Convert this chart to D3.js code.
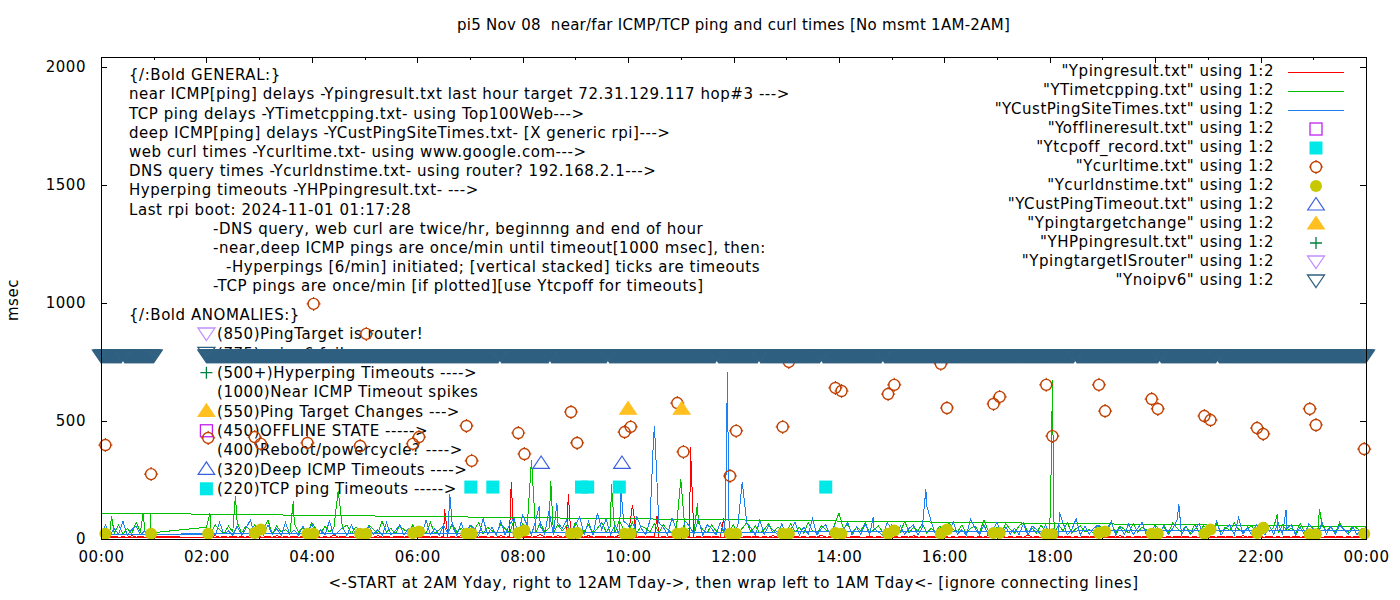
<!DOCTYPE html>
<html>
<head>
<meta charset="utf-8">
<script src="https://cdn.jsdelivr.net/npm/d3@7"></script>
<style>
  body { margin: 0; background: #fff; }
  svg text { font-family: "DejaVu Sans", sans-serif; font-size: 15px; fill: #000; letter-spacing: 0.55px; white-space: pre; }
  svg text.title { letter-spacing: 0.27px; }
</style>
</head>
<body>
<div id="chart"></div>
<script>
// values every 5 minutes: 00:00-00:55 (night) and 02:00-24:00 (day)
const redNight = [8, 10, 8, 12, 8, 9, 8, 14, 8, 10, 8, 9];
const redDay = [
  8, 9, 14, 8, 10, 8, 12, 8, 9, 8, 15, 8,
  9, 8, 10, 8, 14, 8, 9, 8, 12, 8, 10, 8,
  8, 12, 8, 9, 8, 16, 8, 10, 8, 9, 8, 12,
  8, 9, 8, 14, 8, 10, 8, 9, 12, 8, 10, 8,
  9, 8, 12, 8, 10, 8, 9, 8, 9, 8, 14, 8,
  8, 10, 8, 12, 8, 9, 8, 14, 8, 9, 8, 10,
  8, 12, 8, 9, 20, 8, 10, 8, 14, 8, 9, 8,
  8, 10, 8, 14, 8, 9, 12, 8, 10, 8, 16, 8,
  8, 9, 8, 10, 8, 12, 8, 8, 9, 8, 12, 8,
  8, 10, 8, 8, 9, 8, 12, 8, 10, 8, 8, 9,
  8, 9, 8, 12, 8, 10, 8, 9, 8, 14, 8, 10,
  9, 8, 12, 8, 9, 8, 10, 8, 16, 8, 9, 8,
  8, 10, 8, 9, 12, 8, 8, 10, 8, 9, 8, 12,
  8, 9, 8, 10, 8, 14, 8, 9, 8, 12, 8, 9,
  10, 8, 9, 8, 12, 8, 10, 8, 9, 8, 14, 8,
  8, 12, 8, 9, 8, 10, 8, 16, 8, 9, 8, 10,
  8, 9, 12, 8, 10, 8, 9, 8, 12, 8, 10, 8,
  9, 8, 10, 8, 14, 8, 9, 8, 10, 8, 12, 8,
  8, 10, 8, 9, 8, 12, 8, 10, 8, 9, 8, 14,
  8, 9, 8, 12, 8, 10, 8, 9, 14, 8, 10, 8,
  9, 8, 12, 8, 9, 8, 10, 8, 12, 8, 9, 8,
  8, 10, 8, 9, 12, 8, 10, 8, 9, 8, 12, 8,
  8
];
const redSpikes = [["06:31", 127], ["07:47", 242], ["08:52", 191], ["10:05", 144], ["10:33", 98], ["11:11", 390], ["11:49", 89]];
const redTail = [["00:00", 8]];

const greenNight = [22, 40, 30, 25, 60, 20, 45, 22, 70, 30, 30, 25];
const greenDay = [
  50, 25, 60, 40, 22, 55, 30, 70, 25, 55, 35, 60,
  25, 45, 80, 22, 55, 30, 40, 25, 65, 30, 50, 25,
  70, 40, 22, 55, 30, 45, 25, 45, 60, 22, 50, 35,
  22, 60, 40, 25, 75, 30, 45, 22, 55, 40, 25, 60,
  30, 45, 25, 70, 22, 40, 55, 25, 65, 30, 45, 25,
  55, 40, 70, 22, 50, 35, 25, 60, 45, 25, 80, 30,
  65, 40, 30, 25, 70, 30, 45, 25, 60, 35, 55, 25,
  70, 40, 30, 60, 25, 45, 70, 30, 55, 25, 80, 40,
  30, 70, 25, 55, 45, 30, 65, 25, 60, 40, 25, 45,
  60, 30, 50, 25, 70, 40, 25, 60, 35, 25, 45, 30,
  60, 25, 45, 70, 30, 55, 25, 40, 65, 25, 50, 40,
  25, 65, 30, 50, 25, 70, 35, 25, 55, 40, 25, 60,
  30, 45, 60, 25, 50, 35, 70, 25, 40, 55, 30, 25,
  60, 40, 30, 75, 25, 50, 35, 65, 25, 45, 30, 55,
  25, 70, 40, 30, 60, 25, 45, 55, 25, 80, 35, 30,
  50, 25, 65, 40, 25, 55, 70, 30, 45, 25, 60, 30,
  40, 25, 60, 35, 70, 25, 45, 55, 30, 40, 25, 60,
  45, 30, 70, 25, 55, 40, 25, 65, 30, 50, 40, 25,
  60, 35, 50, 25, 70, 45, 30, 55, 25, 60, 30, 55,
  40, 25, 65, 30, 50, 35, 70, 40, 30, 45, 55, 25,
  40, 70, 30, 50, 25, 60, 35, 45, 25, 65, 30, 55,
  45, 25, 60, 35, 50, 25, 70, 40, 30, 55, 45, 30,
  52
];
const greenSpikes = [["00:12", 98], ["00:48", 110], ["02:04", 110], ["02:33", 182], ["03:39", 161], ["04:30", 204],
  ["08:10", 335], ["08:32", 246], ["09:41", 233], ["11:00", 254], ["11:19", 153], ["14:00", 110],
  ["18:02", 365], ["18:03", 675], ["22:19", 106], ["23:07", 127]];
const greenTail = [["00:00", 110], ["00:56", 110], ["00:57", 25]];

const blueNight = [18, 60, 15, 45, 20, 75, 16, 40, 55, 18, 35, 17];
const blueDay = [
  18, 40, 15, 70, 20, 35, 16, 55, 15, 45, 80, 18,
  30, 16, 60, 18, 45, 15, 70, 20, 38, 16, 55, 18,
  65, 15, 40, 18, 75, 16, 30, 50, 15, 60, 18, 45,
  16, 55, 20, 40, 15, 70, 18, 35, 60, 16, 45, 18,
  50, 16, 80, 18, 45, 15, 60, 20, 55, 16, 70, 18,
  60, 45, 16, 85, 20, 50, 15, 75, 18, 60, 90, 20,
  100, 60, 18, 80, 55, 20, 120, 18, 70, 45, 80, 18,
  60, 95, 20, 75, 16, 110, 40, 85, 18, 60, 20, 75,
  60, 20, 95, 45, 18, 80, 25, 70, 50, 18, 90, 40,
  18, 75, 55, 20, 85, 16, 60, 45, 18, 70, 20, 40,
  20, 60, 18, 70, 45, 16, 80, 20, 55, 38, 18, 65,
  16, 40, 70, 18, 50, 20, 85, 16, 45, 60, 18, 55,
  18, 40, 70, 16, 50, 20, 65, 18, 45, 30, 16, 70,
  40, 18, 55, 20, 45, 60, 16, 50, 18, 75, 20, 45,
  50, 18, 75, 20, 40, 16, 85, 45, 18, 60, 16, 40,
  70, 16, 50, 20, 45, 18, 65, 16, 55, 40, 18, 60,
  20, 45, 16, 70, 18, 40, 85, 16, 55, 20, 45, 60,
  18, 40, 75, 16, 50, 20, 65, 18, 45, 70, 16, 40,
  55, 18, 60, 20, 45, 80, 16, 55, 18, 40, 65, 18,
  50, 20, 75, 16, 45, 60, 18, 90, 20, 50, 18, 60,
  40, 16, 55, 20, 70, 18, 45, 60, 16, 50, 18, 65,
  40, 16, 70, 20, 55, 18, 60, 40, 20, 50, 18, 45,
  38
];
const blueSpikes = [["06:37", 190], ["08:19", 140], ["08:39", 153], ["09:52", 204], ["10:29", 429], ["10:30", 480],
  ["11:52", 361], ["11:53", 709], ["12:10", 242], ["14:39", 93], ["15:39", 212], ["15:40", 140],
  ["18:11", 115], ["20:27", 148], ["22:29", 123]];
const blueTail = [["00:00", 20]];

const curlTimes = [["00:05", 398], ["00:57", 275], ["02:02", 428], ["02:55", 432], ["03:02", 403], ["03:55", 407],
  ["04:02", 996], ["04:55", 394], ["05:02", 869], ["05:55", 403], ["06:02", 432], ["06:56", 479],
  ["07:02", 331], ["07:55", 449], ["08:02", 360], ["08:55", 538], ["09:02", 407], ["09:56", 453],
  ["10:03", 475], ["10:56", 576], ["11:03", 369], ["11:56", 267], ["12:03", 458], ["12:56", 475],
  ["13:03", 750], ["13:56", 640], ["14:03", 627], ["14:56", 614], ["15:03", 653], ["15:56", 742],
  ["16:03", 555], ["16:56", 572], ["17:03", 602], ["17:56", 653], ["18:03", 436], ["18:56", 653],
  ["19:03", 542], ["19:56", 593], ["20:03", 551], ["20:56", 521], ["21:03", 504], ["21:56", 470],
  ["22:03", 445], ["22:56", 551], ["23:03", 483], ["23:58", 381]];
const dnsValues = [22, 22, 22, 25, 40, 22, 22, 22, 22, 25, 32, 22,
  22, 25, 36, 22, 25, 22, 22, 22, 25, 22, 22, 22,
  22, 25, 22, 22, 36, 22, 40, 25, 25, 20, 20, 25,
  32, 22, 22, 22, 40, 25, 48, 20, 20, 22];
const offlineTimes = [];
const tcpOffTimes = [["07:01", 220], ["07:26", 220], ["09:07", 220], ["09:14", 220], ["09:50", 220], ["13:45", 220]];
const custTimeouts = [["08:21", 320], ["09:53", 320]];
const targetChanges = [["10:00", 550], ["11:01", 550]];
const noipv6Ranges = [["00:00", "01:00"], ["02:00", "24:00"]];
const noipv6Gaps = [["00:24", "00:26"], ["07:33", "07:35"], ["08:30", "08:32"], ["09:36", "09:38"], ["11:40", "11:42"],
  ["12:28", "12:30"], ["13:39", "13:41"], ["14:49", "14:51"], ["18:28", "18:30"], ["20:04", "20:06"], ["21:10", "21:12"]];
const noipv6Value = 775;

const xTickHours = [0, 2, 4, 6, 8, 10, 12, 14, 16, 18, 20, 22, 24];
const yTicks = [0, 500, 1000, 1500, 2000];

const titleText = "pi5 Nov 08  near/far ICMP/TCP ping and curl times [No msmt 1AM-2AM]";
const xLabel = "<-START at 2AM Yday, right to 12AM Tday->, then wrap left to 1AM Tday<- [ignore connecting lines]";
const generalLines = [
  ["{/:Bold GENERAL:}", 0],
  ["near ICMP[ping] delays -Ypingresult.txt last hour target 72.31.129.117 hop#3 --->", 0],
  ["TCP ping delays -YTimetcpping.txt- using Top100Web--->", 0],
  ["deep ICMP[ping] delays -YCustPingSiteTimes.txt- [X generic rpi]--->", 0],
  ["web curl times -Ycurltime.txt- using www.google.com--->", 0],
  ["DNS query times -Ycurldnstime.txt- using router? 192.168.2.1--->", 0],
  ["Hyperping timeouts -YHPpingresult.txt- --->", 0],
  ["Last rpi boot: 2024-11-01 01:17:28", 0],
  ["-DNS query, web curl are twice/hr, beginnng and end of hour", 1],
  ["-near,deep ICMP pings are once/min until timeout[1000 msec], then:", 1],
  ["-Hyperpings [6/min] initiated; [vertical stacked] ticks are timeouts", 2],
  ["-TCP pings are once/min [if plotted][use Ytcpoff for timeouts]", 1]
];
const anomalyLines = [
  ["(850)PingTarget is router!", "triDown", "#c090ff"],
  ["(775)noipv6 failures", "triDown", "#306080"],
  ["(500+)Hyperping Timeouts ---->", "plus", "#008040"],
  ["(1000)Near ICMP Timeout spikes", null, null],
  ["(550)Ping Target Changes --->", "triUpFill", "#ffc020"],
  ["(450)OFFLINE STATE ----->", "sqOpen", "#c020f0"],
  ["(400)Reboot/powercycle? ---->", null, null],
  ["(320)Deep ICMP Timeouts ---->", "triUp", "#3a60e0"],
  ["(220)TCP ping Timeouts ----->", "sqFill", "#00e8e8"]
];
const legendRows = [
  ['"Ypingresult.txt" using 1:2', "line", "#ff0000"],
  ['"YTimetcpping.txt" using 1:2', "line", "#00c000"],
  ['"YCustPingSiteTimes.txt" using 1:2', "line", "#1e80f0"],
  ['"Yofflineresult.txt" using 1:2', "sqOpen", "#c020f0"],
  ['"Ytcpoff_record.txt" using 1:2', "sqFill", "#00e8e8"],
  ['"Ycurltime.txt" using 1:2', "circOpen", "#c04000"],
  ['"Ycurldnstime.txt" using 1:2', "circFill", "#c8c800"],
  ['"YCustPingTimeout.txt" using 1:2', "triUp", "#3a60e0"],
  ['"Ypingtargetchange" using 1:2', "triUpFill", "#ffc020"],
  ['"YHPpingresult.txt" using 1:2', "plus", "#008040"],
  ['"YpingtargetISrouter" using 1:2', "triDown", "#c090ff"],
  ['"Ynoipv6" using 1:2', "triDown", "#306080"]
];

const W = 1400, H = 600;
const L = 101, R = 1366, T = 57, B = 539;
const tm = s => { const [h, m] = s.split(":").map(Number); return h * 60 + m; };
const x = d3.scaleLinear().domain([0, 1440]).range([L, R]);
const y = d3.scaleLinear().domain([0, 2042]).range([B, T]);

const svg = d3.select("#chart").append("svg").attr("width", W).attr("height", H);
svg.append("defs").append("clipPath").attr("id", "clip")
  .append("rect").attr("x", L).attr("y", T).attr("width", R - L).attr("height", B - T);

function marker(g, type, color, cx, cy) {
  if (type === "sqOpen") {
    g.append("rect").attr("x", cx - 6).attr("y", cy - 6).attr("width", 12).attr("height", 12)
      .attr("fill", "none").attr("stroke", color).attr("stroke-width", 1.3);
  } else if (type === "sqFill") {
    g.append("rect").attr("x", cx - 6.5).attr("y", cy - 6.5).attr("width", 13).attr("height", 13).attr("fill", color);
  } else if (type === "circOpen") {
    g.append("circle").attr("cx", cx).attr("cy", cy).attr("r", 5.5)
      .attr("fill", "none").attr("stroke", color).attr("stroke-width", 1.4);
    g.append("path").attr("stroke", color).attr("stroke-width", 1.2)
      .attr("d", `M${cx},${cy - 7}v2 M${cx},${cy + 5}v2 M${cx - 7},${cy}h2 M${cx + 5},${cy}h2`);
  } else if (type === "circFill") {
    g.append("circle").attr("cx", cx).attr("cy", cy).attr("r", 6).attr("fill", color);
  } else if (type === "triUp" || type === "triUpFill") {
    g.append("path").attr("d", `M${cx},${cy - 7.5}L${cx + 8.3},${cy + 5}L${cx - 8.3},${cy + 5}Z`)
      .attr("fill", type === "triUpFill" ? color : "none").attr("stroke", color).attr("stroke-width", 1.2);
  } else if (type === "triDown") {
    g.append("path").attr("d", `M${cx},${cy + 6.5}L${cx + 8.5},${cy - 6}L${cx - 8.5},${cy - 6}Z`)
      .attr("fill", "none").attr("stroke", color).attr("stroke-width", 1.3);
  } else if (type === "plus") {
    g.append("path").attr("d", `M${cx - 6},${cy}H${cx + 6}M${cx},${cy - 6}V${cy + 6}`)
      .attr("stroke", color).attr("stroke-width", 1.3);
  }
}

// title and axis labels
svg.append("text").attr("class", "title").attr("x", (L + R) / 2).attr("y", 25).attr("dy", "0.35em")
  .attr("text-anchor", "middle").text(titleText);
svg.append("text").attr("x", (L + R) / 2).attr("y", 583).attr("dy", "0.35em").attr("text-anchor", "middle").text(xLabel);
svg.append("text").attr("transform", "translate(13,300) rotate(-90)").attr("dy", "0.35em").attr("text-anchor", "middle").text("msec");

// labels drawn behind the data
const labels = svg.append("g");
const indentX = [129, 213, 226];
generalLines.forEach(([t, ind], i) => {
  labels.append("text").attr("x", indentX[ind]).attr("y", 75 + i * 19.2).attr("dy", "0.35em").text(t);
});
labels.append("text").attr("x", 129).attr("y", 315).attr("dy", "0.35em").text("{/:Bold ANOMALIES:}");
anomalyLines.forEach(([t, type, color], i) => {
  const cy = 334 + i * 19.35;
  labels.append("text").attr("x", 217).attr("y", cy).attr("dy", "0.35em").text(t);
  if (type) marker(labels, type, color, x(tm("02:00")), cy);
});

// axes (ticks inward, mirrored)
const fmt = h => String(h % 24).padStart(2, "0") + ":00";
svg.append("g").attr("transform", `translate(0,${B})`)
  .call(d3.axisBottom(x).tickValues(xTickHours.map(h => h * 60)).tickFormat(m => fmt(m / 60)).tickSizeInner(-6).tickSizeOuter(0).tickPadding(12));
const minorH = xTickHours.slice(0, -1).map(h => (h + 1) * 60);
svg.append("g").attr("transform", `translate(0,${B})`)
  .call(d3.axisBottom(x).tickValues(minorH).tickFormat("").tickSizeInner(-3).tickSizeOuter(0));
svg.append("g").attr("transform", `translate(0,${T})`)
  .call(d3.axisTop(x).tickValues(xTickHours.map(h => h * 60)).tickFormat("").tickSizeInner(-6).tickSizeOuter(0));
svg.append("g").attr("transform", `translate(0,${T})`)
  .call(d3.axisTop(x).tickValues(minorH).tickFormat("").tickSizeInner(-3).tickSizeOuter(0));
svg.append("g").attr("transform", `translate(${L},0)`)
  .call(d3.axisLeft(y).tickValues(yTicks).tickFormat(d3.format("d")).tickSizeInner(-6).tickSizeOuter(0).tickPadding(15));
svg.append("g").attr("transform", `translate(${R},0)`)
  .call(d3.axisRight(y).tickValues(yTicks).tickFormat("").tickSizeInner(-6).tickSizeOuter(0));
svg.selectAll(".domain").remove();
svg.selectAll(".tick line").attr("stroke", "#000").attr("shape-rendering", "crispEdges");
svg.selectAll("g[font-family]").attr("font-family", null).attr("font-size", null);

// line series: night block, day block (spikes merged by time), then the wrap tail
function buildSeries(night, day, spikes, tail) {
  const seg = (vals, start, lo, hi) => {
    const m = new Map(vals.map((v, i) => [start + i * 5, v]));
    spikes.forEach(([t, v]) => { const mm = tm(t); if (mm >= lo && mm <= hi) m.set(mm, v); });
    return Array.from(m, ([t, v]) => [t, v]).sort((a, b) => a[0] - b[0]);
  };
  return [...seg(night, 0, 0, 59), ...seg(day, 120, 120, 1440), ...tail.map(([t, v]) => [tm(t), v])];
}
const lineGen = d3.line().x(d => x(d[0])).y(d => y(d[1]));
const dataG = svg.append("g").attr("clip-path", "url(#clip)");
[
  [redNight, redDay, redSpikes, redTail, "#ff0000"],
  [greenNight, greenDay, greenSpikes, greenTail, "#00c000"],
  [blueNight, blueDay, blueSpikes, blueTail, "#1e80f0"]
].forEach(([n, d, s, t, c]) => {
  dataG.append("path").datum(buildSeries(n, d, s, t)).attr("d", lineGen)
    .attr("fill", "none").attr("stroke", c).attr("stroke-width", 1)
    .attr("shape-rendering", "crispEdges");
});

// point series
const pts = svg.append("g");
offlineTimes.forEach(([t, v]) => marker(pts, "sqOpen", "#c020f0", x(tm(t)), y(v)));
tcpOffTimes.forEach(([t, v]) => marker(pts, "sqFill", "#00e8e8", x(tm(t)), y(v)));
curlTimes.forEach(([t, v]) => marker(pts, "circOpen", "#c04000", x(tm(t)), y(v)));
curlTimes.forEach(([t], i) => marker(pts, "circFill", "#c8c800", x(tm(t)), y(dnsValues[i])));
custTimeouts.forEach(([t, v]) => marker(pts, "triUp", "#3a60e0", x(tm(t)), y(v)));
targetChanges.forEach(([t, v]) => marker(pts, "triUpFill", "#ffc020", x(tm(t)), y(v)));
const gaps = noipv6Gaps.map(([a, b]) => [tm(a), tm(b)]);
noipv6Ranges.forEach(([a, b]) => {
  for (let m = tm(a); m <= tm(b); m++) {
    if (gaps.some(([g0, g1]) => m >= g0 && m <= g1)) continue;
    marker(pts, "triDown", "#306080", x(m), y(noipv6Value));
  }
});

// border
svg.append("rect").attr("x", L).attr("y", T).attr("width", R - L).attr("height", B - T)
  .attr("fill", "none").attr("stroke", "#000").attr("shape-rendering", "crispEdges");

// legend
const leg = svg.append("g");
legendRows.forEach(([t, type, color], i) => {
  const cy = 71 + i * 19;
  leg.append("text").attr("x", 1274).attr("y", cy).attr("dy", "0.35em").attr("text-anchor", "end").text(t);
  if (type === "line") {
    leg.append("line").attr("x1", 1288).attr("x2", 1344).attr("y1", cy + 1).attr("y2", cy + 1)
      .attr("stroke", color).attr("shape-rendering", "crispEdges");
  } else {
    marker(leg, type, color, 1316, cy + 1);
  }
});
</script>
</body>
</html>
